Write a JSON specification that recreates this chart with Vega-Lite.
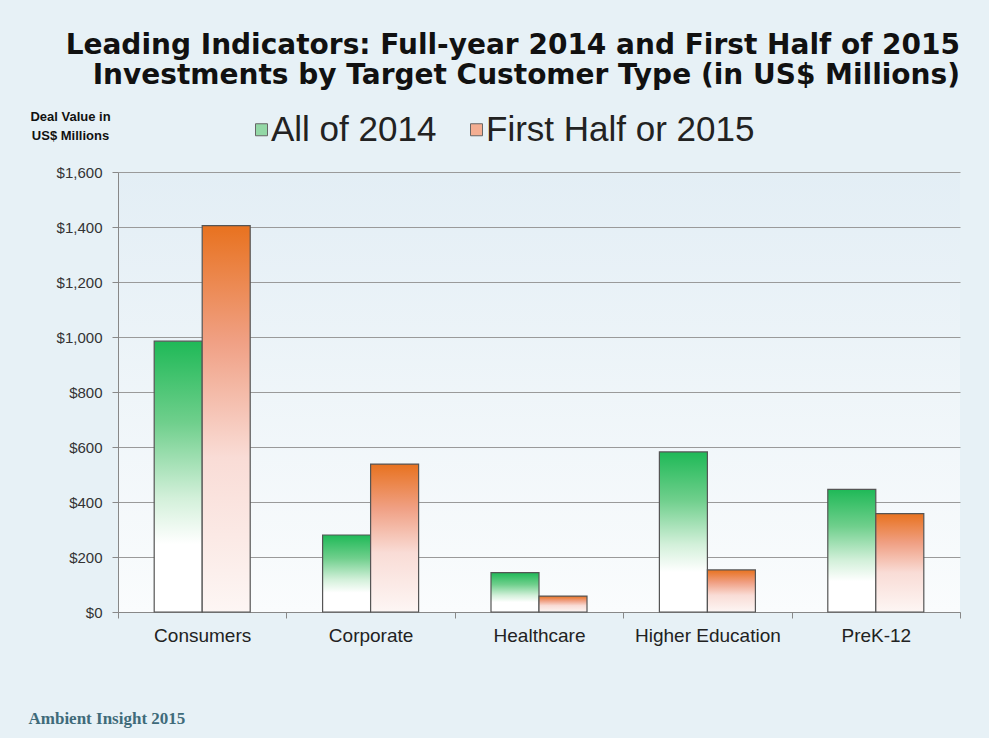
{
  "$schema": "https://vega.github.io/schema/vega-lite/v6.json",
  "width": 842,
  "height": 440,
  "autosize": {"type": "none"},
  "padding": {"left": 118, "top": 172, "right": 29, "bottom": 126},
  "background": "#e7f1f6",
  "title": {
    "text": ["Leading Indicators: Full-year 2014 and First Half of 2015", "Investments by Target Customer Type (in US$ Millions)"],
    "anchor": "end",
    "frame": "group",
    "font": "DejaVu Sans",
    "fontSize": 28,
    "fontWeight": "bold",
    "color": "#111111",
    "lineHeight": 30,
    "offset": 20
  },
  "data": {
    "values": [
      {"category": "Consumers", "series": "All of 2014", "value": 985},
      {"category": "Consumers", "series": "First Half or 2015", "value": 1405},
      {"category": "Corporate", "series": "All of 2014", "value": 280},
      {"category": "Corporate", "series": "First Half or 2015", "value": 538},
      {"category": "Healthcare", "series": "All of 2014", "value": 143},
      {"category": "Healthcare", "series": "First Half or 2015", "value": 58},
      {"category": "Higher Education", "series": "All of 2014", "value": 582},
      {"category": "Higher Education", "series": "First Half or 2015", "value": 153},
      {"category": "PreK-12", "series": "All of 2014", "value": 446},
      {"category": "PreK-12", "series": "First Half or 2015", "value": 358}
    ]
  },
  "encoding": {
    "x": {
      "field": "category",
      "type": "nominal",
      "sort": null,
      "scale": {"paddingInner": 0, "paddingOuter": 0},
      "axis": {
        "title": "Ambient Insight 2015",
        "titleFont": "Liberation Serif",
        "titleFontSize": 17,
        "titleFontWeight": "bold",
        "titleColor": "#3f6b7a",
        "titleAnchor": "start",
        "titleAlign": "left",
        "titleBaseline": "alphabetic",
        "titleX": -90,
        "titleY": 111,
        "labelAngle": 0,
        "labelFont": "Liberation Sans",
        "labelFontSize": 19,
        "labelColor": "#222222",
        "labelPadding": 8,
        "tickBand": "extent",
        "tickSize": 6,
        "tickColor": "#888888",
        "domainColor": "#888888",
        "grid": false
      }
    },
    "y": {
      "field": "value",
      "type": "quantitative",
      "scale": {"domain": [0, 1600]},
      "axis": {
        "values": [0, 200, 400, 600, 800, 1000, 1200, 1400, 1600],
        "format": "$,d",
        "title": ["Deal Value in", "US$ Millions"],
        "titleAngle": 0,
        "titleAlign": "center",
        "titleBaseline": "alphabetic",
        "titleX": -48,
        "titleY": -52,
        "titleFont": "Liberation Sans",
        "titleFontSize": 13,
        "titleFontWeight": "bold",
        "titleColor": "#111111",
        "titleLineHeight": 19,
        "labelFont": "Liberation Sans",
        "labelFontSize": 15,
        "labelColor": "#333333",
        "labelPadding": 10,
        "tickSize": 6,
        "tickColor": "#888888",
        "domainColor": "#888888",
        "grid": true,
        "gridColor": "#9a9a9a"
      }
    },
    "xOffset": {
      "field": "series",
      "type": "nominal",
      "scale": {"domain": ["All of 2014", "First Half or 2015"], "paddingInner": 0, "paddingOuter": 0.754}
    }
  },
  "layer": [
    {
      "transform": [{"filter": "datum.series === 'All of 2014'"}],
      "mark": {
        "type": "bar",
        "stroke": "#555555",
        "strokeWidth": 1.2,
        "fill": {
          "gradient": "linear",
          "x1": 0, "y1": 0, "x2": 0, "y2": 1,
          "stops": [
            {"offset": 0, "color": "#1fb957"},
            {"offset": 0.3, "color": "#6fcf8c"},
            {"offset": 0.58, "color": "#d3f0da"},
            {"offset": 0.75, "color": "#ffffff"},
            {"offset": 1, "color": "#ffffff"}
          ]
        }
      }
    },
    {
      "transform": [{"filter": "datum.series === 'First Half or 2015'"}],
      "mark": {
        "type": "bar",
        "stroke": "#555555",
        "strokeWidth": 1.2,
        "fill": {
          "gradient": "linear",
          "x1": 0, "y1": 0, "x2": 0, "y2": 1,
          "stops": [
            {"offset": 0, "color": "#e8721f"},
            {"offset": 0.3, "color": "#f0a084"},
            {"offset": 0.6, "color": "#f9dcd6"},
            {"offset": 1, "color": "#fdf6f4"}
          ]
        }
      }
    },
    {
      "mark": {"type": "point", "shape": "square", "filled": true, "size": 0, "opacity": 0},
      "encoding": {
        "color": {
          "field": "series",
          "type": "nominal",
          "scale": {"domain": ["All of 2014", "First Half or 2015"], "range": ["#93d8a6", "#f4ae92"]},
          "legend": {
            "title": null,
            "orient": "none",
            "direction": "horizontal",
            "legendX": 126,
            "legendY": -60,
            "symbolType": "square",
            "symbolSize": 144,
            "symbolOpacity": 1,
            "symbolStrokeColor": "#666666",
            "symbolStrokeWidth": 1,
            "labelFont": "Liberation Sans",
            "labelFontSize": 35,
            "labelColor": "#222222",
            "labelOffset": -8,
            "columnPadding": 22,
            "labelLimit": 400
          }
        }
      }
    }
  ],
  "config": {
    "view": {
      "stroke": null,
      "fill": {
        "gradient": "linear",
        "x1": 0, "y1": 0, "x2": 0, "y2": 1,
        "stops": [
          {"offset": 0, "color": "#e3eef5"},
          {"offset": 1, "color": "#fafcfd"}
        ]
      }
    }
  }
}
